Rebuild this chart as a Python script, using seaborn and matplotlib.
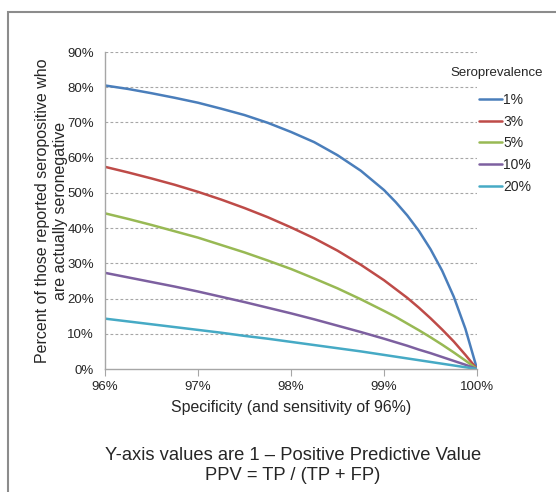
import pandas as pd
import seaborn as sns
import matplotlib.pyplot as plt
from matplotlib.patches import Rectangle

# Specificity (%) on the x axis, sensitivity fixed at 96%
specificity = [96.0, 96.25, 96.5, 96.75, 97.0, 97.25, 97.5, 97.75, 98.0,
               98.25, 98.5, 98.75, 99.0, 99.125, 99.25, 99.375, 99.5,
               99.625, 99.75, 99.875, 100.0]

# Share of reported seropositives who are actually seronegative (1 - PPV), in %
prev_1 = [80.5, 79.5, 78.3, 77.0, 75.6, 73.9, 72.1, 69.9, 67.3,
          64.4, 60.7, 56.3, 50.8, 47.4, 43.6, 39.2, 34.0,
          27.9, 20.5, 11.4, 0.0]
prev_3 = [57.4, 55.8, 54.1, 52.3, 50.3, 48.1, 45.7, 43.1, 40.2,
          37.1, 33.6, 29.6, 25.2, 22.7, 20.2, 17.4, 14.4,
          11.2, 7.8, 4.0, 0.0]
prev_5 = [44.2, 42.6, 40.9, 39.1, 37.3, 35.2, 33.1, 30.8, 28.4,
          25.7, 22.9, 19.8, 16.5, 14.8, 12.9, 11.0, 9.0,
          6.9, 4.7, 2.4, 0.0]
prev_10 = [27.3, 26.0, 24.7, 23.4, 22.0, 20.5, 19.0, 17.4, 15.8,
           14.1, 12.3, 10.5, 8.6, 7.6, 6.6, 5.5, 4.5,
           3.4, 2.3, 1.2, 0.0]
prev_20 = [14.3, 13.5, 12.7, 11.9, 11.1, 10.3, 9.4, 8.6, 7.7,
           6.8, 5.9, 5.0, 4.0, 3.5, 3.0, 2.5, 2.0,
           1.5, 1.0, 0.5, 0.0]

series_labels = ['1%', '3%', '5%', '10%', '20%']
series_values = [prev_1, prev_3, prev_5, prev_10, prev_20]
colors = ['#4A7EBB', '#BE4B48', '#98B954', '#7D60A0', '#46AAC5']

rows = []
for label, vals in zip(series_labels, series_values):
    for s, v in zip(specificity, vals):
        rows.append({'Specificity': s, 'Value': v, 'Seroprevalence': label})
df = pd.DataFrame(rows)

sns.set_style('white')
plt.rcParams['font.family'] = ['Liberation Sans', 'DejaVu Sans']

fig = plt.figure(figsize=(5.56, 4.92), dpi=100)
ax = fig.add_axes([0.1888, 0.25, 0.6692, 0.6443])

sns.lineplot(data=df, x='Specificity', y='Value', hue='Seroprevalence',
             palette=colors, hue_order=series_labels, linewidth=1.8,
             ax=ax, legend=True)

ax.set_xlim(96, 100)
ax.set_ylim(0, 90)
ax.set_xticks([96, 97, 98, 99, 100])
ax.set_xticklabels(['96%', '97%', '98%', '99%', '100%'], fontsize=9.5)
ax.set_yticks(range(0, 91, 10))
ax.set_yticklabels([f'{v}%' for v in range(0, 91, 10)], fontsize=9.5)
for y in range(10, 91, 10):
    ax.axhline(y, color='#A6A6A6', lw=0.8, ls=(0, (2.5, 2)), zorder=0)

for side in ['top', 'right']:
    ax.spines[side].set_visible(False)
for side in ['left', 'bottom']:
    ax.spines[side].set_color('#A6A6A6')
    ax.spines[side].set_linewidth(1.0)
ax.tick_params(axis='x', length=5, color='#A6A6A6', direction='out', pad=4,
               bottom=True)
ax.tick_params(axis='y', length=0, pad=8)

ax.set_xlabel('Specificity (and sensitivity of 96%)', fontsize=11.4, labelpad=5)
ax.set_ylabel('Percent of those reported seropositive who\nare actually seronegative',
              fontsize=11.5, linespacing=1.2)
ax.yaxis.set_label_coords(-0.10, 0.5)

handles, labels = ax.get_legend_handles_labels()
ax.legend(handles, labels, loc='upper left', bbox_to_anchor=(479 / 556, 1 - 93 / 492),
          bbox_transform=fig.transFigure, frameon=False, fontsize=10,
          handlelength=1.65, handletextpad=0.1, labelspacing=0.55,
          borderaxespad=0, borderpad=0)
fig.text(497 / 556, 1 - 73 / 492, 'Seroprevalence', ha='center', va='center',
         fontsize=9.5)

fig.text(293 / 556, 1 - 455 / 492, 'Y-axis values are 1 \u2013 Positive Predictive Value',
         ha='center', va='center', fontsize=13.2)
fig.text(293 / 556, 1 - 475 / 492, 'PPV = TP / (TP + FP)',
         ha='center', va='center', fontsize=13.2)

# grey frame around the chart (right and bottom edges run off the image)
fig.patches.append(Rectangle((8 / 556, -0.1), 1.2, 1.1 - 12 / 492,
                             transform=fig.transFigure, fill=False,
                             edgecolor='#8C8C8C', lw=1.5))

fig.savefig('out.png', dpi=100)
